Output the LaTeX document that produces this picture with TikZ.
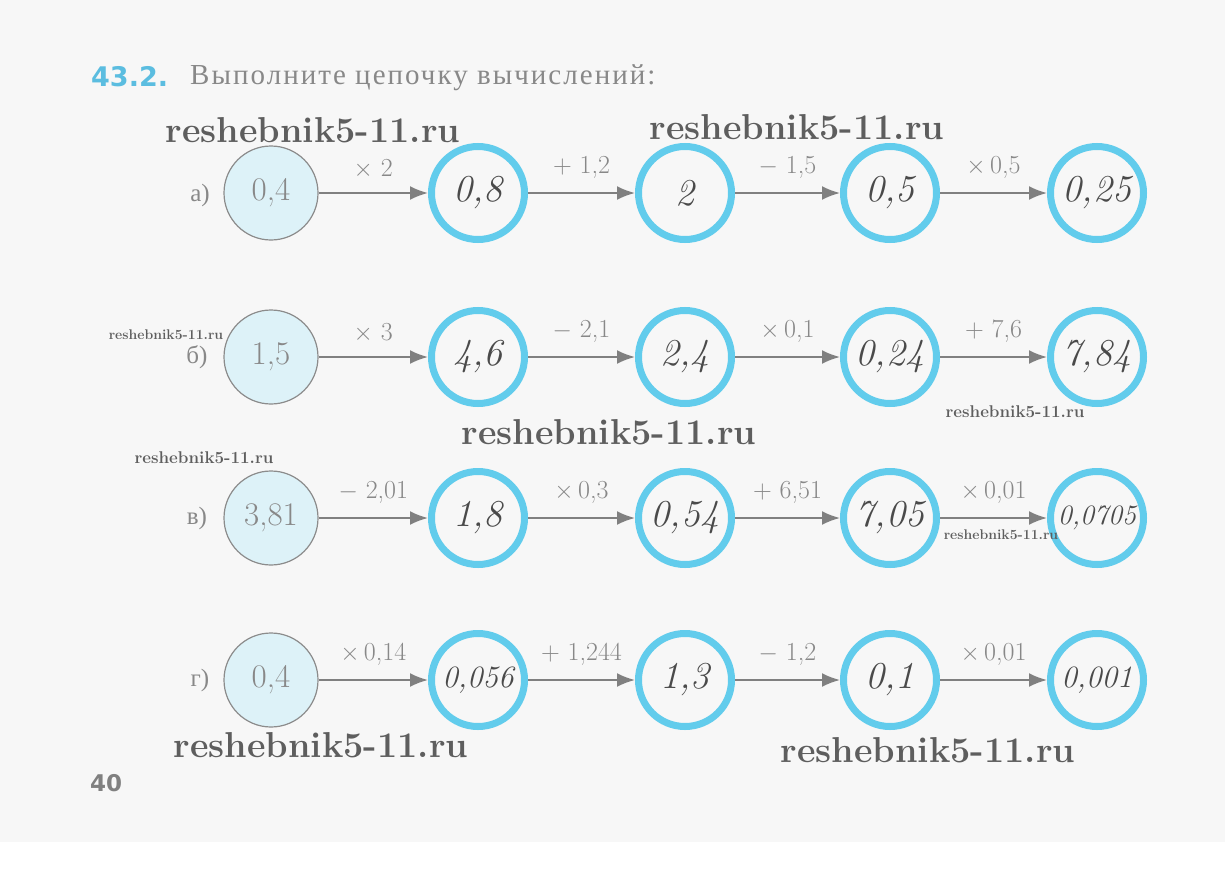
\documentclass[tikz,border=0pt]{standalone}
\usepackage{fontspec}
\usetikzlibrary{arrows.meta}
\newfontfamily\cyr{Liberation Serif}
\newfontfamily\cyrsp[LetterSpace=7]{Liberation Serif}
\newfontfamily\headsans{DejaVu Sans}
\definecolor{bg}{HTML}{F7F7F7}
\definecolor{ring}{HTML}{62CCEC}
\definecolor{startfill}{HTML}{DDF2F8}
\definecolor{startdraw}{HTML}{8C8C8C}
\definecolor{txtgray}{HTML}{888888}
\definecolor{hand}{HTML}{4A4A4A}
\definecolor{wm}{HTML}{5E5E5E}
\definecolor{arr}{HTML}{808080}
\definecolor{numblue}{HTML}{5BBDE0}
\begin{document}
\begin{tikzpicture}[x=1pt,y=-1pt,
  start/.style={circle, draw=startdraw, line width=1.2pt, fill=startfill, minimum size=94pt, inner sep=0pt, text=txtgray, font=\fontsize{33}{35}\selectfont},
  ans/.style={circle, draw=ring, line width=7pt, minimum size=93pt, inner sep=0pt, text=hand, font=\fontsize{38}{40}\selectfont\itshape},
  anssmall/.style={ans, font=\fontsize{31}{33}\selectfont\itshape},
  anstiny/.style={ans, font=\fontsize{28}{30}\selectfont\itshape},
  op/.style={text=txtgray, font=\fontsize{26}{28}\selectfont, inner sep=0pt, above=13pt},
  arrowline/.style={draw=arr, line width=2pt, -{Latex[length=18pt,width=14pt]}},
  rowlab/.style={text=txtgray, font=\cyr\fontsize{25}{27}\selectfont},
  wmbig/.style={text=wm, font=\fontsize{36}{38}\selectfont\bfseries, inner sep=0pt},
  wmmid/.style={text=wm, font=\fontsize{17}{19}\selectfont\bfseries, inner sep=0pt},
  wmsmall/.style={text=wm, font=\fontsize{14}{16}\selectfont\bfseries, inner sep=0pt}
]
\useasboundingbox (0,0) rectangle (1225,875);
\fill[bg] (0,0) rectangle (1225,842);
\fill[white] (0,842) rectangle (1225,875);

% header
\node[anchor=west, inner sep=0pt, text=numblue, font=\headsans\bfseries\fontsize{27}{29}\selectfont] (num) at (91,77) {43.2.};
\node[anchor=west, inner sep=0pt, text=txtgray, font=\cyrsp\fontsize{29}{31}\selectfont] (title) at (190,78) {Выполните цепочку вычислений:};

% row a
\node[rowlab] (la) at (200,195) {а)};
\node[start] (a1) at (271,193) {0,4};
\node[ans] (a2) at (478,193) {0,8};
\node[ans] (a3) at (685,193) {2};
\node[ans] (a4) at (890,193) {0,5};
\node[ans] (a5) at (1097,193) {0,25};
\draw[arrowline] (a1) -- node[op] {$\times$ 2} (a2);
\draw[arrowline] (a2) -- node[op] {+ 1,2} (a3);
\draw[arrowline] (a3) -- node[op] {$-$ 1,5} (a4);
\draw[arrowline] (a4) -- node[op] {$\times$\,0,5} (a5);

% row b
\node[rowlab] (lb) at (197,357) {б)};
\node[start] (b1) at (271,357) {1,5};
\node[ans] (b2) at (478,357) {4,6};
\node[ans] (b3) at (685,357) {2,4};
\node[ans] (b4) at (890,357) {0,24};
\node[ans] (b5) at (1097,357) {7,84};
\draw[arrowline] (b1) -- node[op] {$\times$ 3} (b2);
\draw[arrowline] (b2) -- node[op] {$-$ 2,1} (b3);
\draw[arrowline] (b3) -- node[op] {$\times$\,0,1} (b4);
\draw[arrowline] (b4) -- node[op] {+ 7,6} (b5);

% row v
\node[rowlab] (lv) at (197,518) {в)};
\node[start] (v1) at (271,518) {3,81};
\node[ans] (v2) at (478,518) {1,8};
\node[ans] (v3) at (685,518) {0,54};
\node[ans] (v4) at (890,518) {7,05};
\node[anstiny] (v5) at (1097,518) {0,0705};
\draw[arrowline] (v1) -- node[op] {$-$ 2,01} (v2);
\draw[arrowline] (v2) -- node[op] {$\times$\,0,3} (v3);
\draw[arrowline] (v3) -- node[op] {+ 6,51} (v4);
\draw[arrowline] (v4) -- node[op] {$\times$\,0,01} (v5);

% row g
\node[rowlab] (lg) at (200,680) {г)};
\node[start] (g1) at (271,680) {0,4};
\node[anssmall] (g2) at (478,680) {0,056};
\node[ans] (g3) at (685,680) {1,3};
\node[ans] (g4) at (890,680) {0,1};
\node[anssmall] (g5) at (1097,680) {0,001};
\draw[arrowline] (g1) -- node[op] {$\times$\,0,14} (g2);
\draw[arrowline] (g2) -- node[op] {+ 1,244} (g3);
\draw[arrowline] (g3) -- node[op] {$-$ 1,2} (g4);
\draw[arrowline] (g4) -- node[op] {$\times$\,0,01} (g5);

% page number
\node[anchor=west, inner sep=0pt, text=arr, font=\headsans\bfseries\fontsize{23}{25}\selectfont] (page) at (90,783) {40};

% watermarks
\node[wmbig] (w1) at (313,130) {reshebnik5-11.ru};
\node[wmbig] (w2) at (797,127) {reshebnik5-11.ru};
\node[wmsmall] (w3) at (166,335) {reshebnik5-11.ru};
\node[wmbig] (w4) at (609,432) {reshebnik5-11.ru};
\node[wmmid] (w5) at (204,458) {reshebnik5-11.ru};
\node[wmmid] (w6) at (1015,412) {reshebnik5-11.ru};
\node[wmsmall] (w7) at (1001,535) {reshebnik5-11.ru};
\node[wmbig] (w8) at (321,745) {reshebnik5-11.ru};
\node[wmbig] (w9) at (928,750) {reshebnik5-11.ru};
\end{tikzpicture}
\end{document}
